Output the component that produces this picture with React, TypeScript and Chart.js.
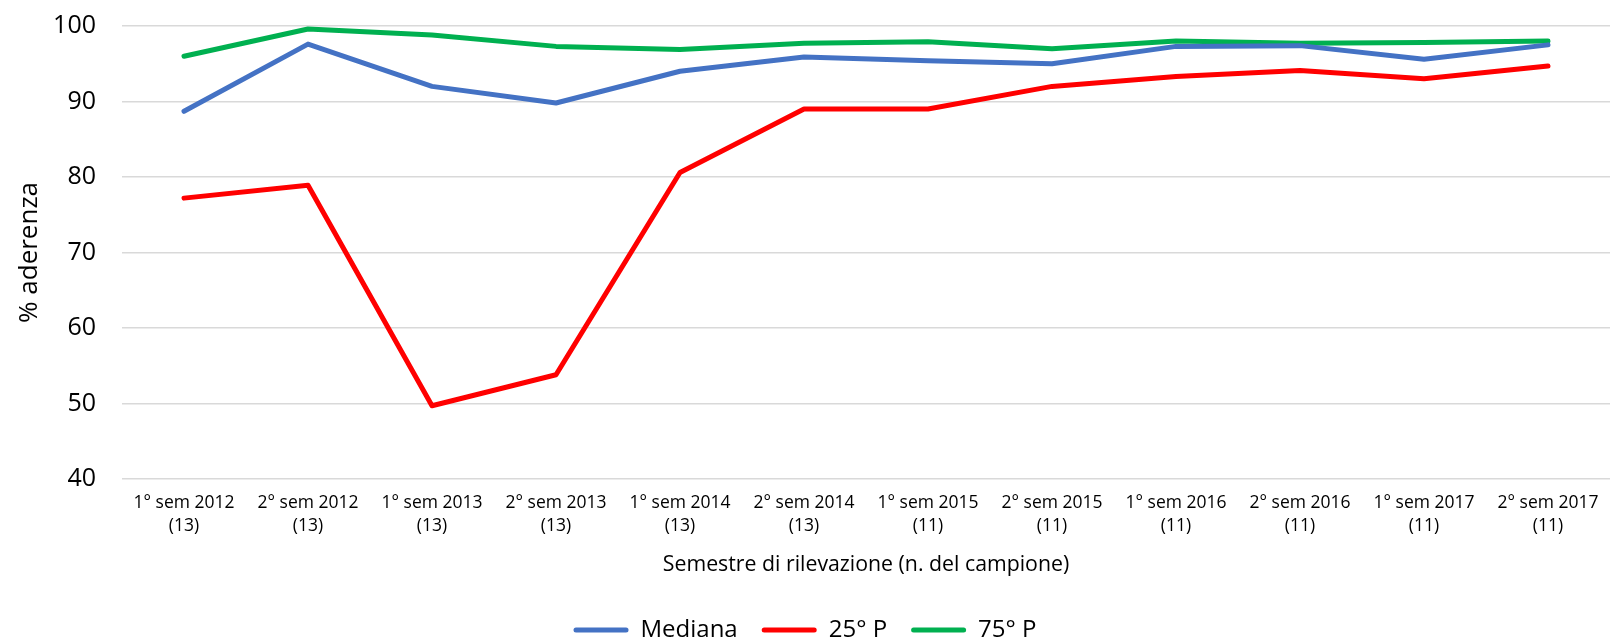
import React, { useEffect, useRef } from "react";
import { Chart, registerables } from "chart.js";

Chart.register(...registerables);

const categories: string[][] = [
  ["1° sem 2012", "(13)"],
  ["2° sem 2012", "(13)"],
  ["1° sem 2013", "(13)"],
  ["2° sem 2013", "(13)"],
  ["1° sem 2014", "(13)"],
  ["2° sem 2014", "(13)"],
  ["1° sem 2015", "(11)"],
  ["2° sem 2015", "(11)"],
  ["1° sem 2016", "(11)"],
  ["2° sem 2016", "(11)"],
  ["1° sem 2017", "(11)"],
  ["2° sem 2017", "(11)"],
];

const mediana = [88.7, 97.6, 92.0, 89.8, 94.0, 95.9, 95.4, 95.0, 97.3, 97.4, 95.6, 97.5];
const p25 = [77.2, 78.9, 49.7, 53.8, 80.6, 89.0, 89.0, 92.0, 93.3, 94.1, 93.0, 94.7];
const p75 = [96.0, 99.6, 98.8, 97.3, 96.9, 97.7, 97.9, 97.0, 98.0, 97.7, 97.8, 98.0];

const yMin = 40;
const yMax = 100;
const yStep = 10;

const FONT = "'Open Sans', 'Noto Sans', sans-serif";

export default function App() {
  const ref = useRef<HTMLCanvasElement | null>(null);

  useEffect(() => {
    document.body.style.margin = "0";
    if (!ref.current) return;
    const mk = (label: string, data: number[], color: string) => ({
      label,
      data,
      borderColor: color,
      backgroundColor: color,
      borderWidth: 5,
      pointRadius: 0,
      pointHoverRadius: 0,
      tension: 0,
      fill: false,
      borderCapStyle: "round" as const,
      borderJoinStyle: "round" as const,
    });
    const chart = new Chart(ref.current, {
      type: "line",
      data: {
        labels: categories,
        datasets: [
          mk("Mediana", mediana, "#4472C4"),
          mk("25° P", p25, "#FF0000"),
          mk("75° P", p75, "#00B050"),
        ],
      },
      options: {
        animation: false,
        responsive: false,
        maintainAspectRatio: false,
        layout: { padding: { top: 26, right: 0, bottom: -9, left: 0 } },
        plugins: {
          tooltip: { enabled: false },
          legend: {
            position: "bottom",
            labels: {
              font: { family: FONT, size: 24 },
              color: "#000",
              boxWidth: 55,
              boxHeight: 5,
              padding: 24,
              useBorderRadius: true,
              borderRadius: 2.5,
              generateLabels: (c: any) =>
                c.data.datasets.map((ds: any, i: number) => ({
                  text: ds.label,
                  fillStyle: ds.borderColor,
                  strokeStyle: ds.borderColor,
                  lineWidth: 0,
                  fontColor: "#000",
                  hidden: false,
                  datasetIndex: i,
                  borderRadius: 2.5,
                })),
            },
          },
        },
        scales: {
          x: {
            offset: true,
            grid: { display: false },
            border: { display: false },
            ticks: {
              font: { family: FONT, size: 17.5, lineHeight: 1.3 },
              color: "#000",
              padding: 5,
              maxRotation: 0,
              autoSkip: false,
            },
            title: {
              display: true,
              text: "Semestre di rilevazione (n. del campione)",
              font: { family: FONT, size: 21.3 },
              color: "#000",
              padding: { top: 10, bottom: 16 },
            },
          },
          y: {
            min: yMin,
            max: yMax,
            afterFit: (s: any) => {
              s.width = 122;
            },
            grid: {
              color: "#d9d9d9",
              lineWidth: 1.5,
              drawTicks: true,
              tickLength: 24,
              tickColor: "rgba(0,0,0,0)",
            },
            border: { display: false },
            ticks: {
              stepSize: yStep,
              font: { family: FONT, size: 25 },
              color: "#000",
              padding: 2,
            },
            title: {
              display: true,
              text: "% aderenza",
              font: { family: FONT, size: 26 },
              color: "#000",
              padding: { top: 14, bottom: 0 },
            },
          },
        },
      },
    });
    return () => chart.destroy();
  }, []);

  return (
    <div style={{ width: 1610, height: 643, background: "#fff" }}>
      <canvas ref={ref} width={1610} height={643} style={{ display: "block" }} />
    </div>
  );
}
